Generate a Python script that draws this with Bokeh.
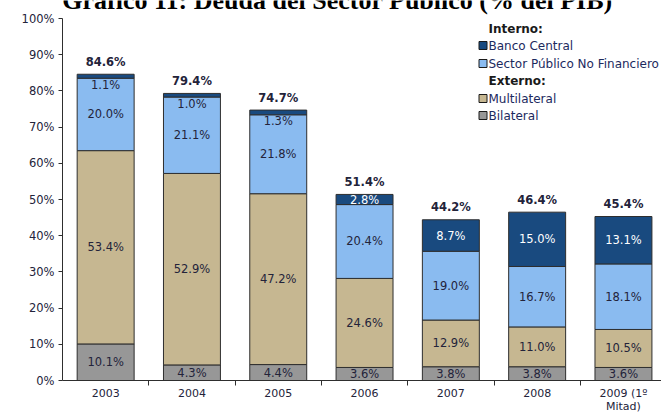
from bokeh.plotting import figure
from bokeh.models import Range1d, FixedTicker, Label, ColumnDataSource, PrintfTickFormatter
from bokeh.embed import file_html
from bokeh.resources import INLINE
from bokeh.core.properties import value
import math

# ---------------- data ----------------
categories = ["2003", "2004", "2005", "2006", "2007", "2008", "2009 (1º\nMitad)"]
bilateral = [10.1, 4.3, 4.4, 3.6, 3.8, 3.8, 3.6]
multilateral = [53.4, 52.9, 47.2, 24.6, 12.9, 11.0, 10.5]
spnf = [20.0, 21.1, 21.8, 20.4, 19.0, 16.7, 18.1]
banco_central = [1.1, 1.0, 1.3, 2.8, 8.7, 15.0, 13.1]
totals = [84.6, 79.4, 74.7, 51.4, 44.2, 46.4, 45.4]
series_names = ["Bilateral", "Multilateral", "Sector Público No Financiero", "Banco Central"]
series_values = [bilateral, multilateral, spnf, banco_central]
y_ticks = list(range(0, 101, 10))
title_text = "Gráfico 11: Deuda del Sector Público (% del PIB)"
y_label = "Porcentaje del PIB"
legend_rows = [("Interno:", None), ("Banco Central", 3), ("Sector Público No Financiero", 2),
               ("Externo:", None), ("Multilateral", 1), ("Bilateral", 0)]

# ---------------- style ----------------
colors = ["#979797", "#c6b791", "#8abbf0", "#194a7f"]
edge = "#2e2e2e"
txt = "#23233a"
FONT = "DejaVu Sans"
FS = "11.5px"

W, H = 661, 415
L, B = 62, 35
AX_TOP = 18            # pixel row of the 100% tick
FW, FH = W - L, H - B
PX_PER_UNIT = (FH - AX_TOP) / 100.0
CAT_PX = 86.3
x_end = -0.5 + FW / CAT_PX
y_end = FH / PX_PER_UNIT


def dx(px):
    return -0.5 + (px - L) / CAT_PX


def dy(py):
    return 100 - (py - AX_TOP) / PX_PER_UNIT


n = len(categories)
xs = list(range(n))
data = dict(x=xs)
for name, vals in zip(series_names, series_values):
    data[name] = vals
src = ColumnDataSource(data)

p = figure(width=W, height=H, output_backend="svg", toolbar_location=None,
           x_range=Range1d(-0.5, x_end), y_range=Range1d(0, y_end),
           min_border_left=L, min_border_top=0, min_border_bottom=B, min_border_right=0)
p.outline_line_color = None
p.xgrid.visible = False
p.ygrid.visible = False
p.background_fill_color = "white"
p.border_fill_color = "white"

p.vbar_stack(series_names, x="x", width=0.66, fill_color=colors, line_color=edge,
             line_width=1, source=src)

# segment labels
lx, ly, lt, lc = [], [], [], []
for i in range(n):
    base = 0.0
    for s, vals in enumerate(series_values):
        v = vals[i]
        top = base + v
        if s == 3 and v < 2:
            y = top - 3.0
            c = txt
        else:
            y = base + v / 2
            c = "white" if s == 3 else txt
        lx.append(xs[i]); ly.append(y); lt.append(f"{v:.1f}%"); lc.append(c)
        base = top
p.text(x=lx, y=ly, text=lt, text_color=lc, text_align="center", text_baseline="middle",
       text_font=value(FONT), text_font_size=FS)

# totals
stack_tops = [sum(v[i] for v in series_values) for i in range(n)]
p.text(x=xs, y=[t + 3.4 for t in stack_tops], text=[f"{t:.1f}%" for t in totals],
       text_color=txt, text_align="center", text_baseline="middle",
       text_font=value(FONT), text_font_size=FS, text_font_style="bold")

# axes
p.yaxis.ticker = FixedTicker(ticks=y_ticks)
p.yaxis.bounds = (0, 100)
p.yaxis.formatter = PrintfTickFormatter(format="%d%%")
p.yaxis.major_tick_out = 4
p.yaxis.major_tick_in = 0
p.yaxis.minor_tick_line_color = None
p.yaxis.major_label_standoff = 4
p.yaxis.axis_line_color = edge
p.yaxis.major_tick_line_color = edge
p.yaxis.major_label_text_font = FONT
p.yaxis.major_label_text_font_size = FS
p.yaxis.major_label_text_color = txt

p.xaxis.ticker = FixedTicker(ticks=xs, minor_ticks=[x + 0.5 for x in xs])
p.xaxis.major_label_overrides = {x: categories[x] for x in xs}
p.xaxis.major_tick_out = 0
p.xaxis.major_tick_in = 0
p.xaxis.minor_tick_out = 5
p.xaxis.minor_tick_in = 0
p.xaxis.major_label_standoff = 1
p.xaxis.axis_line_color = edge
p.xaxis.minor_tick_line_color = edge
p.xaxis.major_label_text_font = FONT
p.xaxis.major_label_text_font_size = "11px"
p.xaxis.major_label_text_color = txt
p.xaxis.major_label_text_line_height = 1.0

# title (cut off at the top like the original)
p.add_layout(Label(x=dx(337), y=dy(14), text=title_text, text_align="center",
                   text_baseline="bottom", text_font="Liberation Serif",
                   text_font_size="26px", text_font_style="bold", text_color="black"))

# y axis label
p.add_layout(Label(x=dx(17), y=dy(198), text=y_label, angle=math.pi / 2,
                   text_align="center", text_baseline="middle", text_font=FONT,
                   text_font_size="10.5px", text_font_style="bold", text_color="#1a1a1a"))

# legend
row_y = [28, 45, 63, 80, 98, 115]
for (label, idx), ry in zip(legend_rows, row_y):
    if idx is None:
        p.add_layout(Label(x=dx(488), y=dy(ry), text=label, text_align="left",
                           text_baseline="middle", text_font=FONT, text_font_size="12px",
                           text_font_style="bold", text_color="#1a1a1a"))
    else:
        p.scatter(x=[dx(482.5)], y=[dy(ry)], marker="square", size=8,
                  fill_color=colors[idx], line_color="#1a1a1a", line_width=1)
        p.add_layout(Label(x=dx(488), y=dy(ry), text=label, text_align="left",
                           text_baseline="middle", text_font=FONT, text_font_size="12px",
                           text_color="#1c2a5e"))

open("out.html", "w").write(file_html(p, INLINE))
